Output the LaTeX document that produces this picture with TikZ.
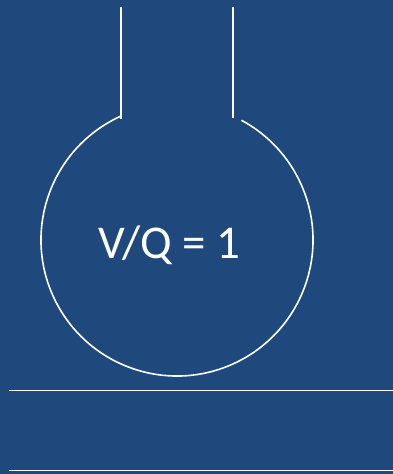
\documentclass[tikz,border=0pt]{standalone}
\usepackage{fontspec}
\setmainfont{Carlito}
\usetikzlibrary{calc}
\definecolor{bgblue}{RGB}{31,73,125}
\begin{document}
\begin{tikzpicture}[x=1pt,y=1pt,
  wline/.style={draw=white,line width=1.6pt},
  label/.style={text=white,font=\fontsize{47}{55}\selectfont,inner sep=0pt}]
\fill[bgblue] (0,0) rectangle (393,474);
\useasboundingbox (0,0) rectangle (393,474);
\coordinate (c) at (177,234);
% tube
\coordinate (lt) at (121,467);
\coordinate (lb) at (121,355);
\coordinate (rt) at (233,467);
\coordinate (rb) at (233,356);
\draw[wline] (lt) -- (lb);
\draw[wline] (rt) -- (rb);
% bulb
\draw[wline] ($(c)+(114:136)$) arc[start angle=114,end angle=421.7,radius=136];
\node[label,anchor=base west] (vq) at (98,215.5) {V/Q = 1};
% bottom lines
\coordinate (h1a) at (9,83.5);
\coordinate (h1b) at (393,83.5);
\coordinate (h2a) at (9,3.5);
\coordinate (h2b) at (393,3.5);
\draw[wline] (h1a) -- (h1b);
\draw[wline] (h2a) -- (h2b);
\end{tikzpicture}
\end{document}
